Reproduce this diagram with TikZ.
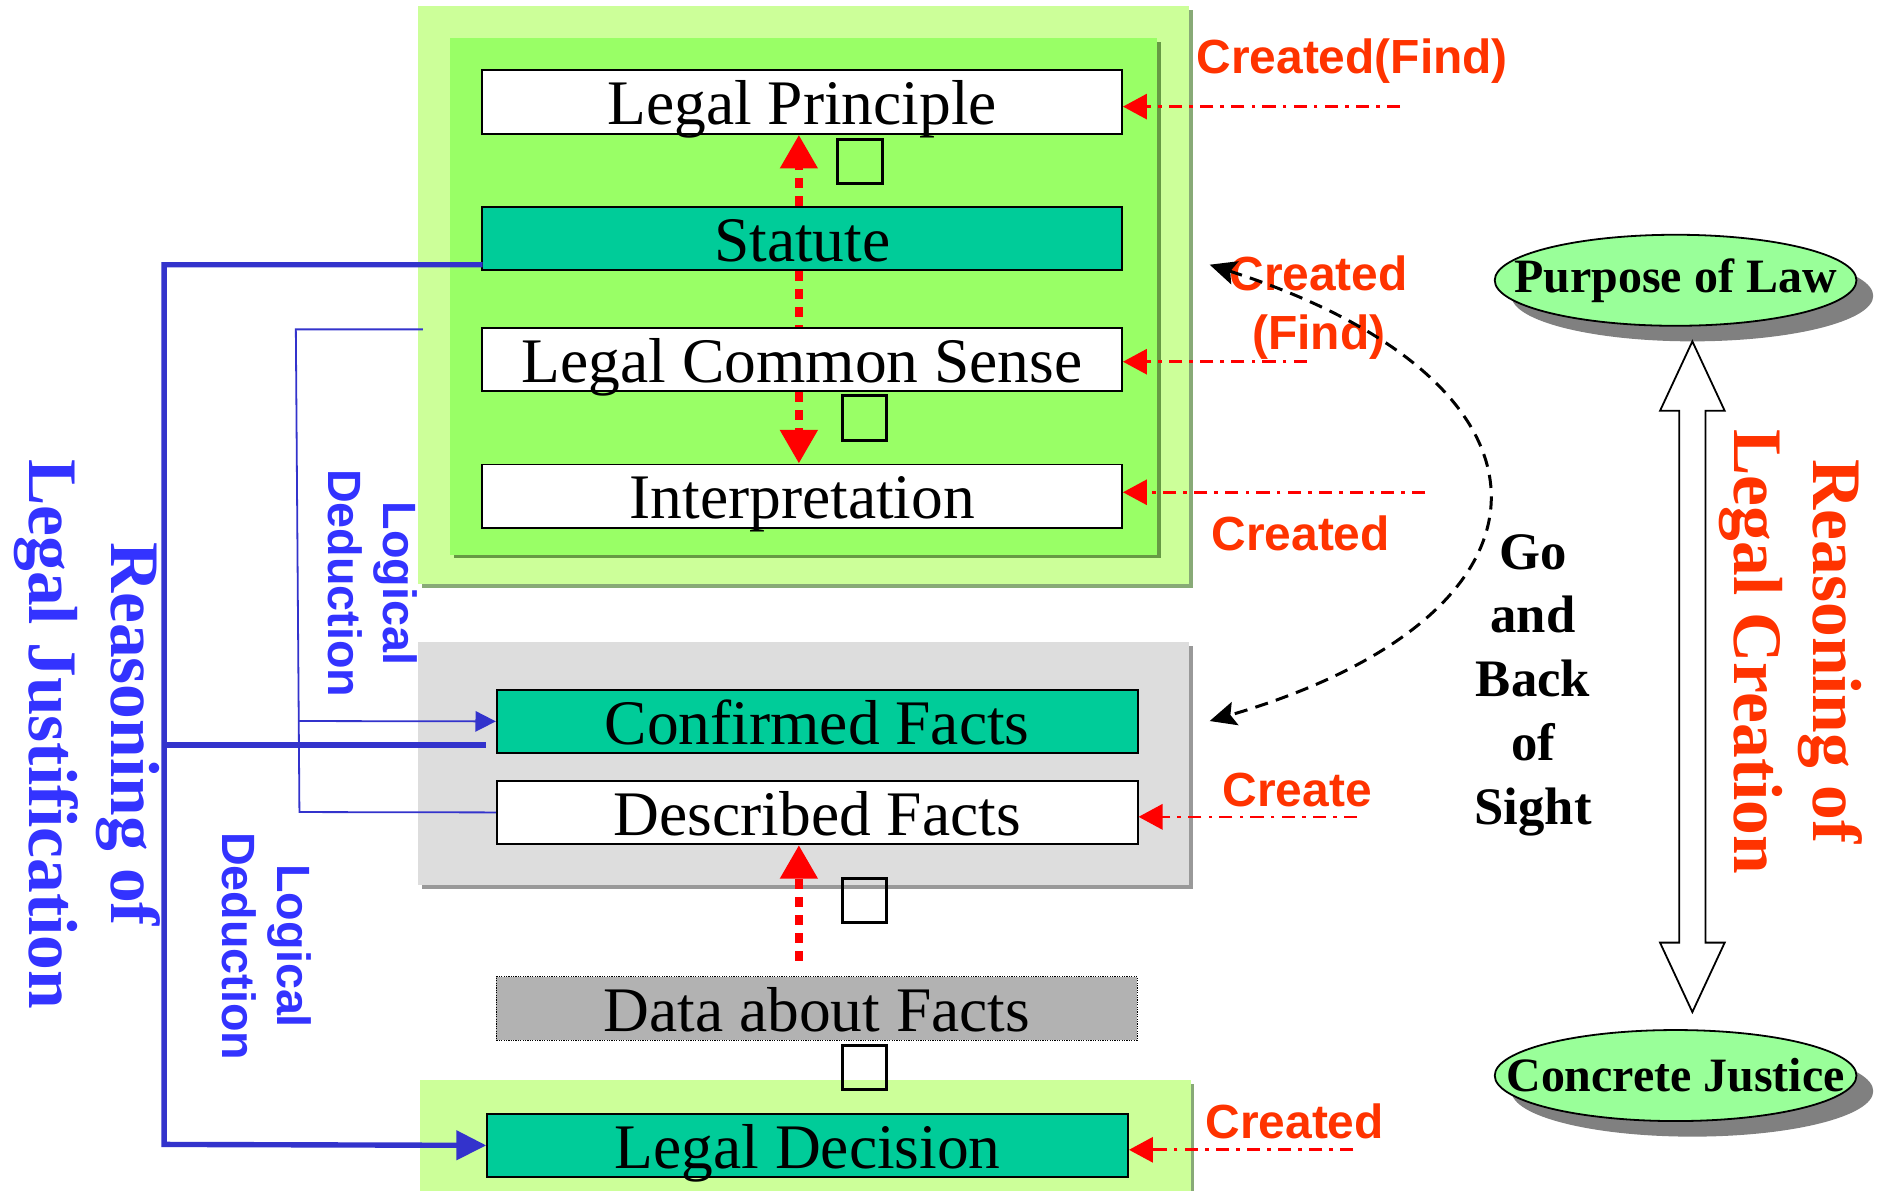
\documentclass[tikz,border=0pt]{standalone}
\usepackage{fontspec}
\setmainfont{Liberation Serif}
\setsansfont{Liberation Sans}
\usetikzlibrary{arrows.meta,shapes.geometric}
\definecolor{lgreen}{HTML}{CCFF99}
\definecolor{lgshadow}{HTML}{88AA77}
\definecolor{mgreen}{HTML}{99FF66}
\definecolor{mgshadow}{HTML}{669944}
\definecolor{tealbox}{HTML}{00CC99}
\definecolor{gbox}{HTML}{DDDDDD}
\definecolor{gshadow}{HTML}{999999}
\definecolor{dgray}{HTML}{B2B2B2}
\definecolor{egreen}{HTML}{99FF99}
\definecolor{eshadow}{HTML}{808080}
\definecolor{bline}{HTML}{3333CC}
\definecolor{btext}{HTML}{3333FF}
\definecolor{otext}{HTML}{FF3300}
\definecolor{rline}{HTML}{FF0000}
\begin{document}
\begin{tikzpicture}[x=1pt,y=-1pt,
  fbox/.style={draw=black, line width=1.6pt, minimum width=534pt, minimum height=53pt,
    inner sep=0pt, anchor=north west, text height=38pt, text depth=0pt,
    font=\fontsize{53}{60}\selectfont},
  whitebox/.style={fbox, fill=white},
  tealbx/.style={fbox, fill=tealbox},
  databx/.style={fbox, fill=dgray, line width=0.8pt, dash pattern=on 1pt off 1pt},
  sq/.style={draw=black, line width=2.5pt, minimum width=37pt, minimum height=37pt, inner sep=0pt},
  reddashdot/.style={draw=rline, line width=2.2pt, dash pattern=on 11pt off 6pt on 3pt off 6pt,
    -{Triangle[length=20pt,width=21pt]}},
  reddot/.style={draw=rline, line width=6.5pt, dash pattern=on 8pt off 7pt,
    -{Triangle[length=28pt,width=30pt]}},
  reddotplain/.style={draw=rline, line width=6.5pt, dash pattern=on 8pt off 7pt},
  bthick/.style={draw=bline, line width=4.5pt},
  bthin/.style={draw=bline, line width=1.5pt},
  rlabel/.style={text=otext, font=\sffamily\bfseries\fontsize{40}{49}\selectfont, align=center, inner sep=0pt},
  blabel/.style={text=btext, font=\sffamily\bfseries\fontsize{39}{46}\selectfont, align=center, inner sep=0pt, rotate=-90},
  ell/.style={ellipse, draw=black, line width=1.5pt, fill=egreen, minimum width=302pt, minimum height=76pt,
    inner sep=0pt},
  elltext/.style={inner sep=0pt, font=\bfseries\fontsize{40}{46}\selectfont}
]
\useasboundingbox (0,0) rectangle (1568,994);
\fill[white] (0,0) rectangle (1568,994);

% panels
\fill[lgshadow] (352,8) rectangle (996,491);
\fill[lgreen] (349,5) rectangle (993,488);
\fill[mgshadow] (379,35) rectangle (969,466);
\fill[mgreen] (376,32) rectangle (966,463);
\fill[gshadow] (352,539) rectangle (996,742);
\fill[gbox] (349,536) rectangle (993,739);
\fill[lgshadow] (354,905) rectangle (997,994);
\fill[lgreen] (351,902) rectangle (994,994);

% boxes
\node[whitebox] (lp) at (402,58) {Legal Principle};
\node[tealbx] (st) at (402,172) {Statute};
\node[whitebox] (lcs) at (402,273) {Legal Common Sense};
\node[whitebox] (int) at (402,387) {Interpretation};
\node[tealbx, minimum width=535pt] (cf) at (414,575) {Confirmed Facts};
\node[whitebox, minimum width=535pt] (df) at (414,651) {Described Facts};
\node[databx, minimum width=535pt] (dat) at (414,815) {Data about Facts};
\node[tealbx, minimum width=535pt] (ld) at (406,929) {Legal Decision};

% missing-glyph squares
\node[sq] (q1) at (718,135) {};
\node[sq] (q2) at (722,349) {};
\node[sq] (q3) at (722,752) {};
\node[sq] (q4) at (722,891) {};

% red dotted vertical arrows
\coordinate (va) at (667,0);
\draw[reddot] (va |- st.north) -- (va |- lp.south);
\draw[reddotplain] (va |- st.south) -- (va |- lcs.north);
\draw[reddot] (va |- lcs.south) -- (va |- int.north);
\coordinate (ds) at (667,802);
\draw[reddot] (ds) -- (ds |- df.south);

% red labels
\node[rlabel] (t1) at (1129,51) {Created(Find)};
\node[rlabel] (t2) at (1101,257) {Created\\(Find)};
\node[rlabel] (t3) at (1086,445) {Created};
\node[rlabel] (t4) at (1083,660) {Create};
\node[rlabel] (t5) at (1081,936) {Created};

% red dash-dot arrows
\coordinate (r1) at (1169,89);
\coordinate (r2) at (1091,302);
\coordinate (r3) at (1190,411);
\coordinate (r4) at (1133,682);
\coordinate (r5) at (1130,960);
\draw[reddashdot] (r1) -- (r1 -| lp.east);
\draw[reddashdot] (r2) -- (r2 -| lcs.east);
\draw[reddashdot] (r3) -- (r3 -| int.east);
\draw[reddashdot] (r4) -- (r4 -| df.east);
\draw[reddashdot] (r5) -- (r5 -| ld.east);

% black dashed go-and-back curve
\coordinate (g1) at (1010,221);
\coordinate (g2) at (1010,602);
\draw[black, line width=2.5pt, dash pattern=on 11pt off 7pt,
  {Stealth[length=22pt,width=20pt,inset=4pt]}-{Stealth[length=22pt,width=20pt,inset=4pt]}]
  (g1) .. controls (1318,320) and (1318,512) .. (g2);

\node[font=\bfseries\fontsize{44}{53.3}\selectfont, align=center, inner sep=0pt] (gb) at (1280,572)
  {Go\\and\\Back\\of\\Sight};

% ellipses with shadows
\fill[eshadow] (1413,247) ellipse [x radius=151pt, y radius=38pt];
\node[ell] (pol) at (1399,234) {};
\node[elltext] (polt) at (pol.center) {Purpose of Law};
\fill[eshadow] (1413,911) ellipse [x radius=151pt, y radius=38pt];
\node[ell] (cj) at (1399,898) {};
\node[elltext] (cjt) at (cj.center) {Concrete Justice};

% double block arrow
\draw[black, fill=white, line width=1.5pt, line join=miter]
  (1413,285) -- (1440,343) -- (1424,343) -- (1424,787) -- (1440,787) -- (1413,845)
  -- (1386,787) -- (1402,787) -- (1402,343) -- (1386,343) -- cycle;

% rotated red text
\node[rotate=-90, align=center, text=otext, inner sep=0pt,
  font=\bfseries\fontsize{58}{66}\selectfont] (rlc) at (1495,544) {Reasoning of\\Legal Creation};

% blue connectors
\coordinate (bt1) at (403,221);
\draw[bthick, -{Triangle[length=25pt,width=24pt]}] (bt1) -- (137,221) -- (137,955.5) -- (ld.west);
\coordinate (bcf) at (406,622);
\draw[bthick] (137,622) -- (bcf);
\coordinate (ts) at (353,275);
\draw[bthin] (ts) -- (247,275) -- (250,678) -- (df.west);
\draw[bthin, -{Triangle[length=17pt,width=17pt]}] (249,602) -- (cf.west);

% blue texts
\node[rotate=-90, align=center, text=btext, inner sep=0pt,
  font=\bfseries\fontsize{58}{68}\selectfont] (rlj) at (73,613) {Reasoning of\\Legal Justification};
\node[blabel] (ld1) at (311,487) {Logical\\Deduction};
\node[blabel] (ld2) at (223,790) {Logical\\Deduction};
\end{tikzpicture}
\end{document}
